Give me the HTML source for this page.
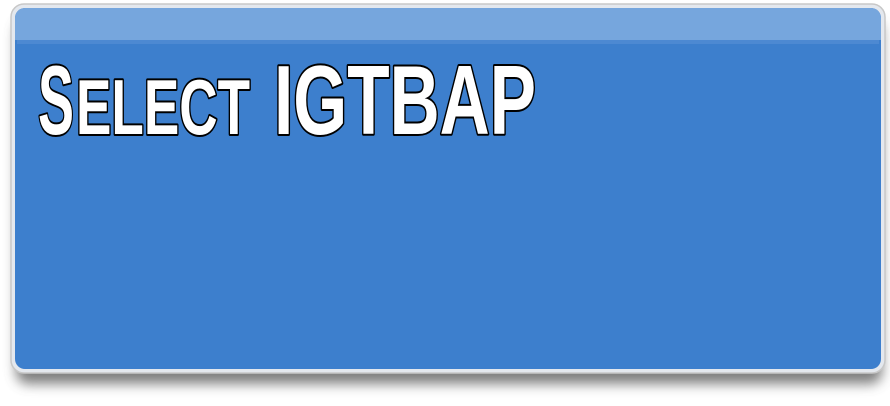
<!DOCTYPE html>
<html><head><style>
html,body{margin:0;padding:0;background:#fff;width:890px;height:406px;overflow:hidden}
</style></head><body>
<svg width="890" height="406" viewBox="0 0 890 406" xmlns="http://www.w3.org/2000/svg">
<defs>
<filter id="sh" x="-5%" y="-5%" width="110%" height="130%"><feGaussianBlur stdDeviation="6"/></filter>
</defs>
<rect x="16" y="20" width="866" height="364" rx="12" fill="#555" opacity="0.75" filter="url(#sh)"/>
<rect x="11" y="4" width="874" height="369" rx="13" fill="#e4e8ee" stroke="#c8c8c8" stroke-width="1.5"/>
<rect x="15" y="8" width="866" height="361" rx="10" fill="#3d7fcd"/>
<path d="M25,8 H871 a10,10 0 0 1 10,10 V40 H15 V18 a10,10 0 0 1 10,-10z" fill="#76a6dd"/>
<rect x="17" y="40" width="862" height="4" fill="#4d89d2"/>
<g font-family="'Liberation Sans Narrow','Liberation Sans',sans-serif" font-weight="bold" fill="#fff" stroke="#000" stroke-width="4" paint-order="stroke" stroke-linejoin="round">
<text x="38" y="134" font-size="98" textLength="36" lengthAdjust="spacingAndGlyphs">S</text>
<text x="76" y="134" font-size="78" textLength="174" lengthAdjust="spacingAndGlyphs">ELECT</text>
<text x="274" y="134" font-size="98" textLength="262" lengthAdjust="spacingAndGlyphs">IGTBAP</text>
</g>
</svg>
</body></html>
